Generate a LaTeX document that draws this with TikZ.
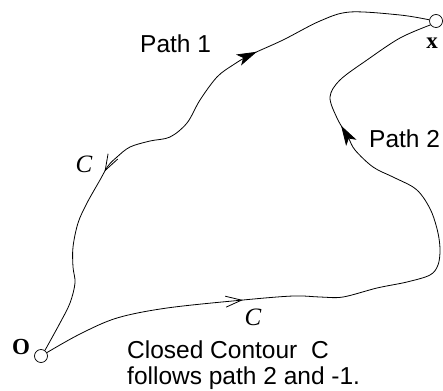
\documentclass[tikz,border=0pt]{standalone}
\usepackage{fontspec}
\setmainfont{Liberation Serif}
\setsansfont{Liberation Sans}
\usetikzlibrary{arrows.meta,decorations.markings}
\begin{document}
\begin{tikzpicture}[x=1pt,y=-1pt,
  curve/.style={line width=0.8pt},
  endpt/.style={circle,draw,line width=0.7pt,minimum size=13pt,inner sep=0pt},
  saylabel/.style={font=\sffamily\fontsize{24.5}{25.5}\selectfont,inner sep=0pt},
  mathlabel/.style={font=\itshape\fontsize{25}{26}\selectfont,inner sep=0pt},
  boldlabel/.style={font=\bfseries\fontsize{23}{26}\selectfont,inner sep=0pt},
  filledtip/.tip={Stealth[length=20pt,width=12pt,inset=5pt]},
  opentip/.tip={Straight Barb[length=16pt,width=11pt,line width=0.8pt]},
  pathone/.style={decoration={markings,
      mark=at position 0.335 with {\arrowreversed{opentip}},
      mark=at position 0.685 with {\arrow{filledtip}}},postaction=decorate},
  pathtwo/.style={decoration={markings,
      mark=at position 0.274 with {\arrow{opentip}},
      mark=at position 0.79 with {\arrow{filledtip}}},postaction=decorate}
]
\useasboundingbox (0,0) rectangle (443,390);
\node[endpt] (O) at (41,356) {};
\node[endpt] (X) at (436,21) {};
% Path 1
\draw[curve,pathone] plot[smooth,tension=0.55] coordinates {
  (O.55) (60,323) (70,303) (75,283) (73,267) (73,247) (78,223) (87,203)
  (100,180) (108,166) (117,157) (130,147) (150,141) (170,137) (187,123)
  (200,100) (217,77) (233,65) (250,55) (283,40) (320,21) (350,12) (400,15) (X.170)};
% Path 2
\draw[curve,pathtwo] plot[smooth,tension=0.55] coordinates {
  (O.30) (80,334) (117,318) (167,308) (243,300) (293,296) (320,297) (343,297)
  (377,288) (407,282) (430,275) (438,265) (440,250) (438,233) (432,213)
  (423,197) (413,187) (393,177) (373,167) (355,150) (348,137) (337,118)
  (330,97) (340,80) (367,60) (400,38) (X.215)};
% labels
\node[saylabel,anchor=base west] (p1) at (140,53) {Path 1};
\node[saylabel,anchor=base west] (p2) at (369,147) {Path 2};
\node[saylabel,anchor=base west,align=left] (cc) at (127,384) {Closed Contour\ \ C\\follows path 2 and -1.};
\node[boldlabel] (Olab) at (21,347) {O};
\node[boldlabel] (Xlab) at (432,43) {x};
\node[mathlabel] (C1) at (84,164) {C};
\node[mathlabel] (C2) at (253,317) {C};
\end{tikzpicture}
\end{document}
